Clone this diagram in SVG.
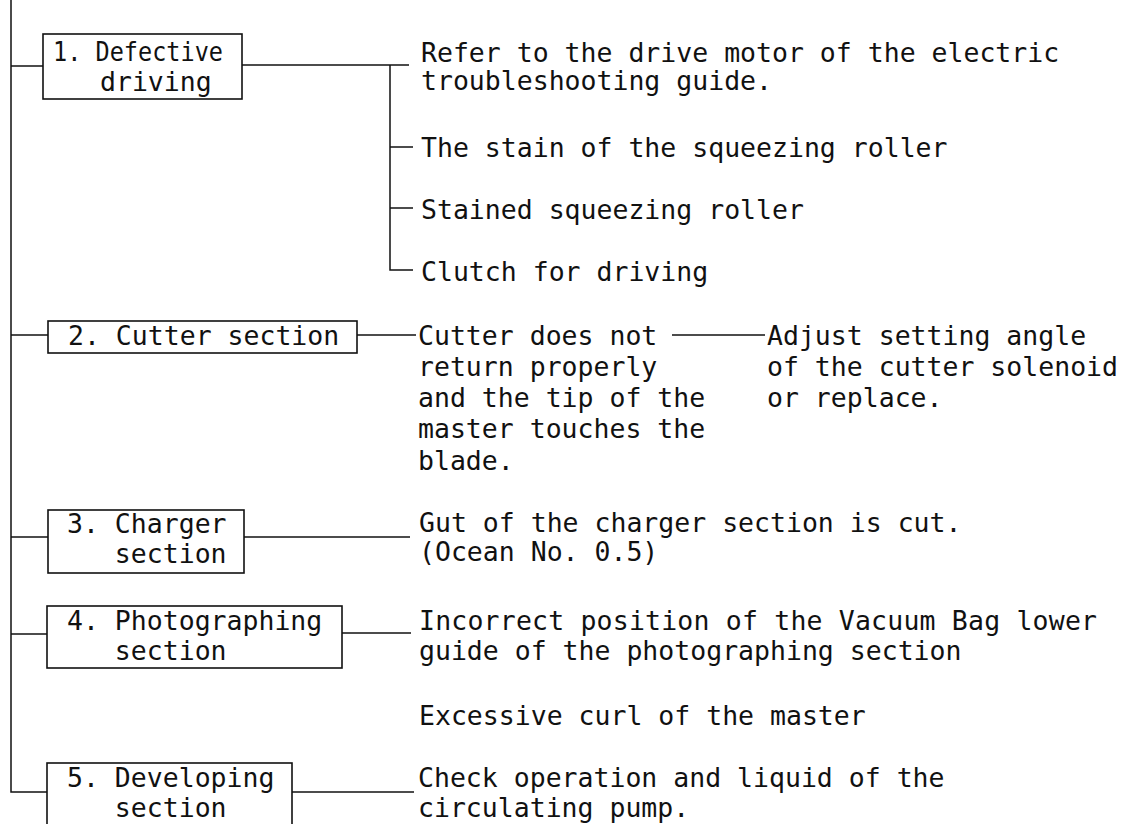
<svg xmlns="http://www.w3.org/2000/svg" width="1129" height="824" viewBox="0 0 1129 824">
<style>
  .bg{fill:#fff}
  .box{fill:#fff;stroke:#111;stroke-width:1.6}
  .ln{fill:none;stroke:#111;stroke-width:1.5}
  text{font-family:"DejaVu Sans Mono","Liberation Mono",monospace;font-size:26.5px;fill:#111;white-space:pre}
</style>
<rect class="bg" x="0" y="0" width="1129" height="824"/>
<g id="connectors">
  <path class="ln" d="M11,0 V792 H47"/>
  <path class="ln" d="M11,66 H43"/>
  <path class="ln" d="M11,335 H48"/>
  <path class="ln" d="M11,537 H48"/>
  <path class="ln" d="M11,634 H47"/>
  <path class="ln" d="M242,65 H409"/>
  <path class="ln" d="M390,65 V270 H413"/>
  <path class="ln" d="M390,147 H413"/>
  <path class="ln" d="M390,208 H413"/>
  <path class="ln" d="M357,335 H416"/>
  <path class="ln" d="M672,335 H765"/>
  <path class="ln" d="M244,537 H410"/>
  <path class="ln" d="M342,633 H411"/>
  <path class="ln" d="M292,792 H414"/>
</g>
<g id="node1">
  <rect class="box" x="43" y="34" width="199" height="65"/>
  <text x="53" y="61" textLength="170" lengthAdjust="spacingAndGlyphs">1. Defective</text>
  <text x="100" y="91">driving</text>
</g>
<g id="node2">
  <rect class="box" x="48" y="321" width="309" height="32"/>
  <text x="68" y="345">2. Cutter section</text>
</g>
<g id="node3">
  <rect class="box" x="48" y="510" width="196" height="63"/>
  <text x="67" y="533">3. Charger</text>
  <text x="67" y="563">   section</text>
</g>
<g id="node4">
  <rect class="box" x="47" y="606" width="295" height="62"/>
  <text x="67" y="630">4. Photographing</text>
  <text x="67" y="660">   section</text>
</g>
<g id="node5">
  <rect class="box" x="47" y="763" width="245" height="70"/>
  <text x="67" y="787">5. Developing</text>
  <text x="67" y="817">   section</text>
</g>
<g id="causes1">
  <text x="421" y="62">Refer to the drive motor of the electric</text>
  <text x="421" y="90">troubleshooting guide.</text>
  <text x="421" y="157">The stain of the squeezing roller</text>
  <text x="421" y="219">Stained squeezing roller</text>
  <text x="421" y="281">Clutch for driving</text>
</g>
<g id="causes2">
  <text x="418" y="345">Cutter does not</text>
  <text x="418" y="376">return properly</text>
  <text x="418" y="407">and the tip of the</text>
  <text x="418" y="438">master touches the</text>
  <text x="418" y="470">blade.</text>
</g>
<g id="remedy2">
  <text x="767" y="345">Adjust setting angle</text>
  <text x="767" y="376">of the cutter solenoid</text>
  <text x="767" y="407">or replace.</text>
</g>
<g id="causes3">
  <text x="419" y="532">Gut of the charger section is cut.</text>
  <text x="419" y="561">(Ocean No. 0.5)</text>
</g>
<g id="causes4">
  <text x="419" y="630" textLength="678">Incorrect position of the Vacuum Bag lower</text>
  <text x="419" y="660">guide of the photographing section</text>
  <text x="419" y="725">Excessive curl of the master</text>
</g>
<g id="causes5">
  <text x="418" y="787">Check operation and liquid of the</text>
  <text x="418" y="817">circulating pump.</text>
</g>
</svg>
